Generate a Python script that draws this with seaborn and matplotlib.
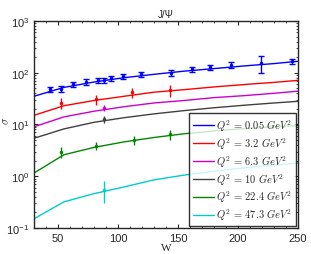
import numpy as np
import pandas as pd
import matplotlib
matplotlib.use("Agg")
import matplotlib.pyplot as plt
import seaborn as sns

sns.set_style("ticks")
plt.rcParams['font.family'] = ['Liberation Sans', 'DejaVu Sans']
plt.rcParams['mathtext.fontset'] = 'cm'

# model curves
w_curve = [30, 55, 80, 105, 130, 155, 180, 205, 230, 250]
curve_005 = [35, 52, 66, 80, 93, 107, 120, 135, 150, 166]
curve_32 = [15, 23, 29, 35, 42, 47, 53, 59, 65, 71]
curve_63 = [9, 14, 18, 22, 26, 29, 33, 36, 40, 44]
curve_10 = [5.4, 8.2, 11, 13.5, 16, 18.5, 21, 23.5, 26, 28]
curve_224 = [1.15, 2.6, 3.6, 4.6, 5.6, 6.6, 7.5, 8.3, 9.0, 9.5]
curve_473 = [0.15, 0.32, 0.46, 0.62, 0.85, 1.05, 1.25, 1.45, 1.65, 1.8]

# data points
w_005 = [43, 52.5, 62.6, 73.5, 83.6, 88.6, 94.5, 104, 119, 144, 162, 177, 194, 219, 245]
s_005 = [48, 49, 60, 66, 71, 72, 78, 85, 93, 100, 117, 127, 140, 152, 166]
e_005 = [6, 7, 7, 8, 8, 8, 9, 10, 11, 13, 14, 15, 18, 55, 20]
w_32 = [52.5, 82, 112, 143]
s_32 = [26, 30.5, 42, 46]
e_32 = [6, 7, 9, 12]
w_63 = [88.5]
s_63 = [21]
e_63 = [3]
w_10 = [88.5]
s_10 = [12.6]
e_10 = [1.8]
w_224 = [52.5, 82, 113, 143]
s_224 = [3.0, 3.9, 5.1, 6.4]
e_224 = [0.7, 0.7, 1.0, 1.3]
w_473 = [88.5]
s_473 = [0.55]
e_473 = [0.25]

labels = ['0.05', '3.2', '6.3', '10', '22.4', '47.3']
colors = ['#0000ff', '#ff0000', '#cc00cc', '#404040', '#008800', '#00cccc']
curves = [curve_005, curve_32, curve_63, curve_10, curve_224, curve_473]
points = [(w_005, s_005, e_005), (w_32, s_32, e_32), (w_63, s_63, e_63),
          (w_10, s_10, e_10), (w_224, s_224, e_224), (w_473, s_473, e_473)]

rows = []
for lab, cv in zip(labels, curves):
    for w, s in zip(w_curve, cv):
        rows.append({'W': w, 'sigma': s, 'Q2': r'$Q^2\,=\,%s\ GeV^2$' % lab})
df = pd.DataFrame(rows)

fig = plt.figure(figsize=(3.11, 2.55), dpi=100)
ax = fig.add_axes([0.109, 0.102, 0.849, 0.812])

sns.lineplot(data=df, x='W', y='sigma', hue='Q2', palette=colors, ax=ax,
             linewidth=1.0, sort=False)

for (w, s, e), c in zip(points, colors):
    cap = 2 if c == '#0000ff' else 0
    ax.errorbar(w, s, yerr=e, fmt='.', color=c, markersize=3, elinewidth=1.0,
                capsize=cap, capthick=1.0)

ax.set_yscale('log')
ax.set_xlim(30, 250)
ax.set_ylim(0.1, 1000)
ax.set_xticks([50, 100, 150, 200, 250])
ax.xaxis.set_minor_locator(matplotlib.ticker.MultipleLocator(10))
ax.tick_params(which='both', direction='in', top=True, right=True, labelsize=8)
ax.tick_params(which='major', length=3)
ax.tick_params(which='minor', length=1.5)
ax.set_xlabel('W', family='Liberation Serif', fontsize=8, labelpad=0)
ax.set_ylabel(r'$\sigma$', fontsize=8)
ax.yaxis.set_label_coords(-0.085, 0.52)
ax.set_title('J/Ψ', fontsize=7, pad=3)

leg = ax.legend(loc='lower right', fontsize=7.5, frameon=True, fancybox=False,
                edgecolor='black', borderaxespad=0.15, handlelength=2.0,
                handletextpad=0.2, labelspacing=0.22, borderpad=0.4)
leg.get_frame().set_linewidth(1.0)
for sp in ax.spines.values():
    sp.set_linewidth(1.0)

fig.savefig('out.png', dpi=100)
